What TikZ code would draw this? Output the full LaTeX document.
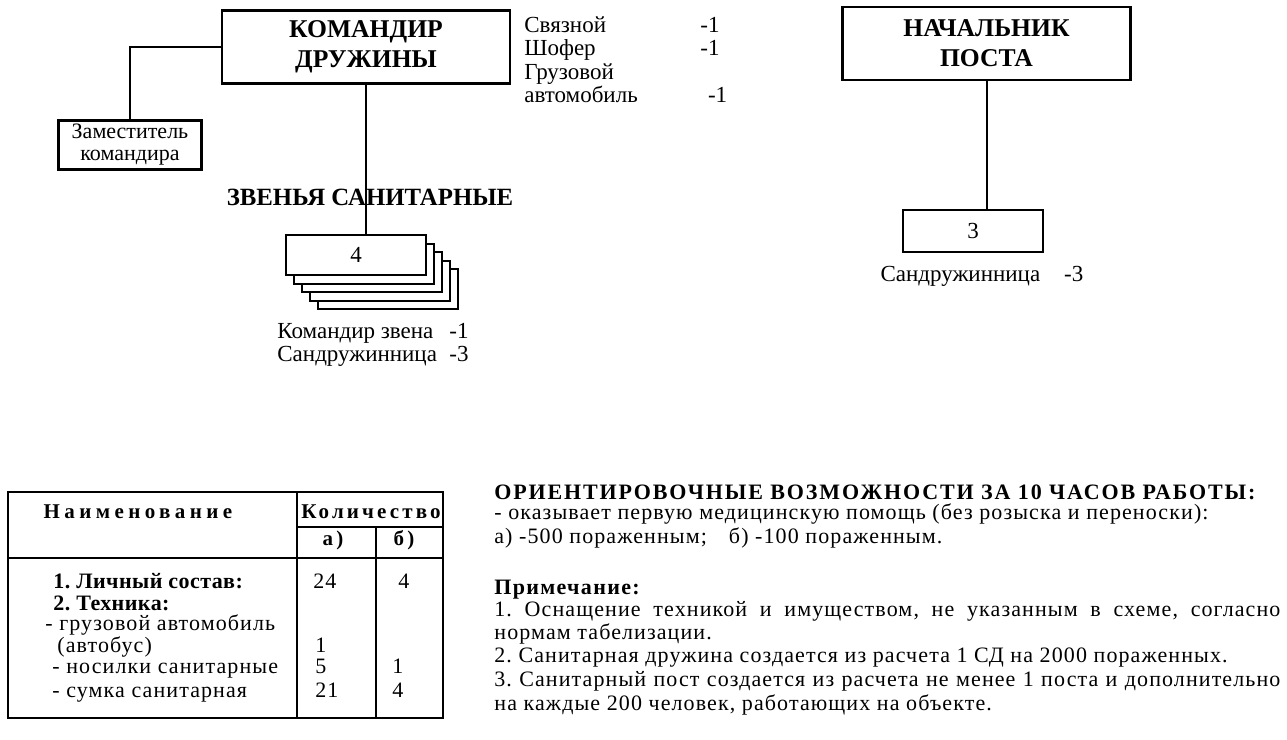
\documentclass[tikz,border=0pt]{standalone}
\usepackage{fontspec}
\setmainfont{Liberation Serif}[BoldFont={Liberation Serif Bold}]
\usetikzlibrary{positioning}
\frenchspacing

\begin{document}
\begin{tikzpicture}[
    x=0.5pt, y=-0.5pt,
    box/.style={draw, line width=1.3pt, inner sep=0pt},
    chief/.style={box, minimum width=144pt, minimum height=36.5pt, align=center,
      font=\bfseries\fontsize{12.8}{15}\selectfont},
    unit/.style={draw, line width=1pt, fill=white, inner sep=0pt,
      minimum width=70pt, minimum height=20pt, font=\fontsize{11.5}{12}\selectfont},
    conn/.style={line width=1pt},
    txt/.style={inner sep=0pt, font=\fontsize{11.5}{11.75}\selectfont},
    thead/.style={inner sep=0pt, anchor=base, font=\bfseries\fontsize{10.5}{12}\selectfont\addfontfeature{LetterSpace=15}},
    tcell/.style={inner sep=0pt, anchor=base west, font=\fontsize{11}{11}\selectfont\addfontfeature{LetterSpace=5}},
    tbold/.style={tcell, font=\bfseries\fontsize{11}{11}\selectfont\addfontfeature{LetterSpace=2}},
    note/.style={inner sep=0pt, anchor=base west, font=\fontsize{11}{11.75}\selectfont\addfontfeature{LetterSpace=5}}
  ]
  \useasboundingbox (0,0) rectangle (1287,740);

  % druzhina
  \node[chief] (kd) at (366,47) {КОМАНДИР\\ДРУЖИНЫ};
  \node[box, line width=1.1pt, minimum width=71.5pt, minimum height=24.5pt, align=center,
    font=\fontsize{11}{11}\selectfont] (zam) at (130,145) {Заместитель\\командира};
  \draw[conn] (kd.west) -| (zam.north);

  \node[txt, anchor=base west] (svyaz) at (524,32)
    {\begin{tabular}[t]{@{}p{88pt}@{}l@{}}
      Связной & -1\\ Шофер & -1\\ Грузовой & \\ автомобиль & \,\,-1
    \end{tabular}};

  \node[inner sep=0pt, font=\bfseries\fontsize{12.4}{15}\selectfont] (zven) at (370,197) {ЗВЕНЬЯ САНИТАРНЫЕ};
  \foreach \i in {4,3,2,1}
    \node[unit] (st\i) at (356+8*\i, 255+8.5*\i) {};
  \node[unit, line width=1.3pt] (st0) at (356,255) {4};
  \draw[conn] (kd.south) -- (kd.south |- st0.north);
  \node[txt, anchor=base west] (zvsost) at (277,338)
    {\begin{tabular}[t]{@{}p{86pt}@{}l@{}}
      Командир звена & -1\\ Сандружинница & -3
    \end{tabular}};

  % post
  \node[chief] (np) at (986.5,43.5) {НАЧАЛЬНИК\\ПОСТА};
  \node[unit, line width=1.3pt, minimum height=21pt] (p3) at (973,231) {3};
  \draw[conn] (np.south) -- (np.south |- p3.north);
  \node[txt, anchor=base] (psost) at (982,281) {Сандружинница\hspace{12pt}-3};

  % table
  \draw[line width=1.1pt] (8,492) rectangle (443,718);
  \draw[line width=1pt] (297,492) -- (297,718) (376,527) -- (376,718)
    (297,527) -- (443,527) (8,558) -- (443,558);
  \node[thead, font=\bfseries\fontsize{10.5}{12}\selectfont\addfontfeature{LetterSpace=21}] (hname) at (138,518) {Наименование};
  \node[thead] (hqty) at (371,518) {Количество};
  \node[thead] (ha) at (333,545) {а)};
  \node[thead] (hb) at (404,545) {б)};
  \node[tbold] (r1) at (53,588) {1. Личный состав:};
  \node[tbold] (r2) at (53,610) {2. Техника:};
  \node[tcell] (r3) at (45,630) {- грузовой автомобиль};
  \node[tcell] (r4) at (57,652) {(автобус)};
  \node[tcell] (r5) at (52,673) {- носилки санитарные};
  \node[tcell] (r6) at (52,697) {- сумка санитарная};
  \node[tcell] (a1) at (313,588) {24};
  \node[tcell] (b1) at (398,588) {4};
  \node[tcell] (a4) at (315,652) {1};
  \node[tcell] (a5) at (315,673) {5};
  \node[tcell] (b5) at (392,673) {1};
  \node[tcell] (a6) at (315,697) {21};
  \node[tcell] (b6) at (392,697) {4};

  % capabilities and notes
  \node[note, font=\bfseries\fontsize{11}{11.75}\selectfont\addfontfeature{LetterSpace=8.5}] (cap) at (494,499)
    {ОРИЕНТИРОВОЧНЫЕ ВОЗМОЖНОСТИ ЗА 10 ЧАСОВ РАБОТЫ:};
  \node[note] (cap1) at (494,519) {- оказывает первую медицинскую помощь (без розыска и переноски):};
  \node[note] (cap2) at (494,543) {а) -500 пораженным;\quad б) -100 пораженным.};
  \node[note, font=\bfseries\fontsize{11}{11.75}\selectfont\addfontfeature{LetterSpace=6}] (prim) at (494,594) {Примечание:};
  \node[note] (n1) at (494,616) {\makebox[393pt][s]{1. Оснащение техникой и имуществом, не указанным в схеме, согласно}};
  \node[note] (n1b) at (494,639) {нормам табелизации.};
  \node[note] (n2) at (494,662) {2. Санитарная дружина создается из расчета 1 СД на 2000 пораженных.};
  \node[note] (n3) at (494,686) {\makebox[393pt][s]{3. Санитарный пост создается из расчета не менее 1 поста и дополнительно}};
  \node[note] (n3b) at (494,710) {на каждые 200 человек, работающих на объекте.};
\end{tikzpicture}
\end{document}
